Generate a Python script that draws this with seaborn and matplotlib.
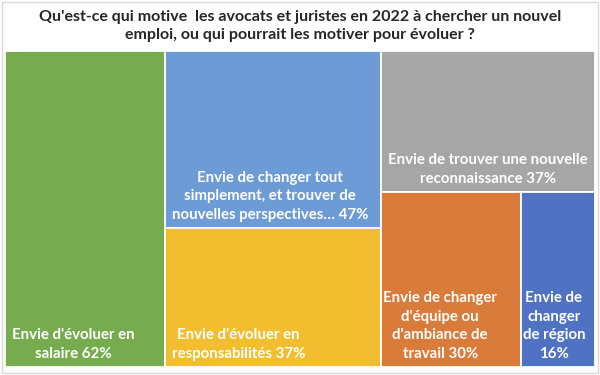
import numpy as np
import matplotlib.pyplot as plt
import seaborn as sns
from matplotlib.patches import Rectangle

####figure settings####
sns.set_theme(style="white")
plt.rcParams["font.family"] = ["Lato", "DejaVu Sans"]
plt.rcParams["font.weight"] = "bold"

#######################
labels = ["Envie d'évoluer en\nsalaire",
          "Envie de changer tout\nsimplement, et trouver de\nnouvelles perspectives…",
          "Envie d'évoluer en\nresponsabilités",
          "Envie de trouver une nouvelle\nreconnaissance",
          "Envie de changer\nd'équipe ou\nd'ambiance de\ntravail",
          "Envie de\nchanger\nde région"]
seps = [" ", " ", " ", " ", " ", "\n"]
values = [62, 47, 37, 37, 30, 16]
colors = ["#77ac4e", "#6d9bd6", "#f2bd2e", "#a6a6a6", "#d97b3a", "#5072c2"]

W, H = 590.0, 316.0


# squarified treemap layout
def worst(row, w):
    s = sum(row)
    return max(max(w * w * r / (s * s), s * s / (w * w * r)) for r in row)


def layout_row(row, x, y, dx, dy):
    s = sum(row)
    out = []
    if dx >= dy:  # column on the left
        cw = s / dy
        yy = y
        for r in row:
            out.append((x, yy, cw, r / cw))
            yy += r / cw
        return out, (x + cw, y, dx - cw, dy)
    rh = s / dx  # row on the top
    xx = x
    for r in row:
        out.append((xx, y, r / rh, rh))
        xx += r / rh
    return out, (x, y + rh, dx, dy - rh)


def squarify(vals, x, y, dx, dy):
    areas = list(np.array(vals, dtype=float) * dx * dy / sum(vals))
    rects = []
    while areas:
        w = min(dx, dy)
        row = [areas.pop(0)]
        while areas and worst(row + [areas[0]], w) <= worst(row, w):
            row.append(areas.pop(0))
        out, (x, y, dx, dy) = layout_row(row, x, y, dx, dy)
        rects += out
    return rects


rects = squarify(values, 0, 0, W, H)

fig = plt.figure(figsize=(6, 3.75), dpi=100)
ax = fig.add_axes([5 / 600, 8 / 375, 590 / 600, 316 / 375])

for (x, y, w, h), v, lab, sep, c in zip(rects, values, labels, seps, colors):
    ax.bar(x, h, width=w, bottom=y, align="edge", color=c,
           edgecolor="white", linewidth=1.3)
    pad = 7 if w > 150 else 2
    ax.text(x + pad, y + h - 6, lab + sep + str(v) + "%", ha="left",
            va="bottom", multialignment="center", color="white",
            fontsize=10.8, fontweight="bold", linespacing=1.42)

ax.set_xlim(0, W)
ax.set_ylim(H, 0)
ax.axis("off")

fig.suptitle("Qu'est-ce qui motive  les avocats et juristes en 2022 à chercher un nouvel\n"
             "emploi, ou qui pourrait les motiver pour évoluer ?",
             x=0.5, y=0.972, fontsize=11.5, fontweight="bold", color="#262626",
             linespacing=1.35)

fig.patches.append(Rectangle((2 / 600, 2 / 375), 596 / 600, 371 / 375,
                             transform=fig.transFigure, fill=False,
                             edgecolor="#d9d9d9", linewidth=1))

plt.savefig("out.png", dpi=100)
